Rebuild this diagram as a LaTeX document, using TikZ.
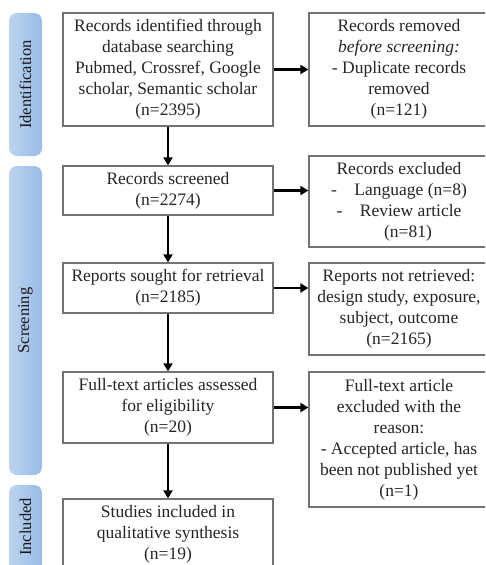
\documentclass[tikz,border=0pt]{standalone}
\usepackage{fontspec,tikz}
\setmainfont{Liberation Serif}
\usetikzlibrary{arrows.meta}
\definecolor{barl}{HTML}{BCD4EF}
\definecolor{barr}{HTML}{99BBE5}

\begin{document}
\begin{tikzpicture}[x=1pt,y=-1pt,
    box/.style={draw=black!55, line width=1.2pt, fill=white, text=black!85, align=center, inner sep=0pt, font=\fontsize{17.5}{21}\selectfont},
    lbox/.style={box, minimum width=210pt},
    rbox/.style={box, minimum width=180pt},
    bar/.style={rounded corners=8pt, left color=barl, right color=barr, minimum width=33pt, inner sep=0pt},
    bartxt/.style={rotate=90, text=black!90, inner sep=0pt, font=\fontsize{16.5}{20}\selectfont},
    arr/.style={-{Triangle[length=8pt,width=9pt]}, line width=2.4pt}]
    \useasboundingbox (0,0) rectangle (485,565);
    \clip (0,0) rectangle (485,565);
    \node (idbar) [bar, minimum height=143pt] at (25.5,84.5) {};
    \node (idtxt) [bartxt] at (idbar) {Identification};
    \node (scbar) [bar, minimum height=309pt] at (25.5,320.5) {};
    \node (sctxt) [bartxt] at (scbar) {Screening};
    \node (inbar) [bar, minimum height=95pt] at (25.5,532.5) {};
    \node (intxt) [bartxt] at (25.5,527) {Included};
    \node (l1) [lbox, minimum height=113pt] at (168,69.5) {Records identified through\\database searching\\Pubmed, Crossref, Google\\scholar, Semantic scholar\\(n=2395)};
    \node (l2) [lbox, minimum height=49pt] at (168,190.5) {Records screened\\(n=2274)};
    \node (l3) [lbox, minimum height=50pt] at (168,288) {Reports sought for retrieval\\(n=2185)};
    \node (l4) [lbox, minimum height=71pt] at (168,407.5) {Full-text articles assessed\\for eligibility\\(n=20)};
    \node (l5) [lbox, minimum height=71pt] at (168,534.5) {Studies included in\\qualitative synthesis\\(n=19)};
    \node (r1) [rbox, minimum height=113pt] at (399,69.5) {Records removed\\\textit{before screening:}\\- Duplicate records\\removed\\(n=121)};
    \node (r2) [rbox, minimum height=91pt] at (399,201.5) {Records excluded\\-\quad Language (n=8)\\-\quad Review article\\\hspace*{18pt}(n=81)};
    \node (r3) [rbox, minimum height=92pt] at (399,309) {Reports not retrieved:\\design study, exposure,\\subject, outcome\\(n=2165)};
    \node (r4) [rbox, minimum height=135pt] at (399,439.5) {Full-text article\\excluded with the\\reason:\\- Accepted article, has\\been not published yet\\(n=1)};
    \draw [arr] (l1.south) -- (l2.north);
    \draw [arr] (l2.south) -- (l3.north);
    \draw [arr] (l3.south) -- (l4.north);
    \draw [arr] (l4.south) -- (l5.north);
    \draw [arr] (l1.east) -- (l1.east -| r1.west);
    \draw [arr] (l2.east) -- (l2.east -| r2.west);
    \draw [arr] (l3.east) -- (l3.east -| r3.west);
    \draw [arr] (l4.east) -- (l4.east -| r4.west);
\end{tikzpicture}
\end{document}
